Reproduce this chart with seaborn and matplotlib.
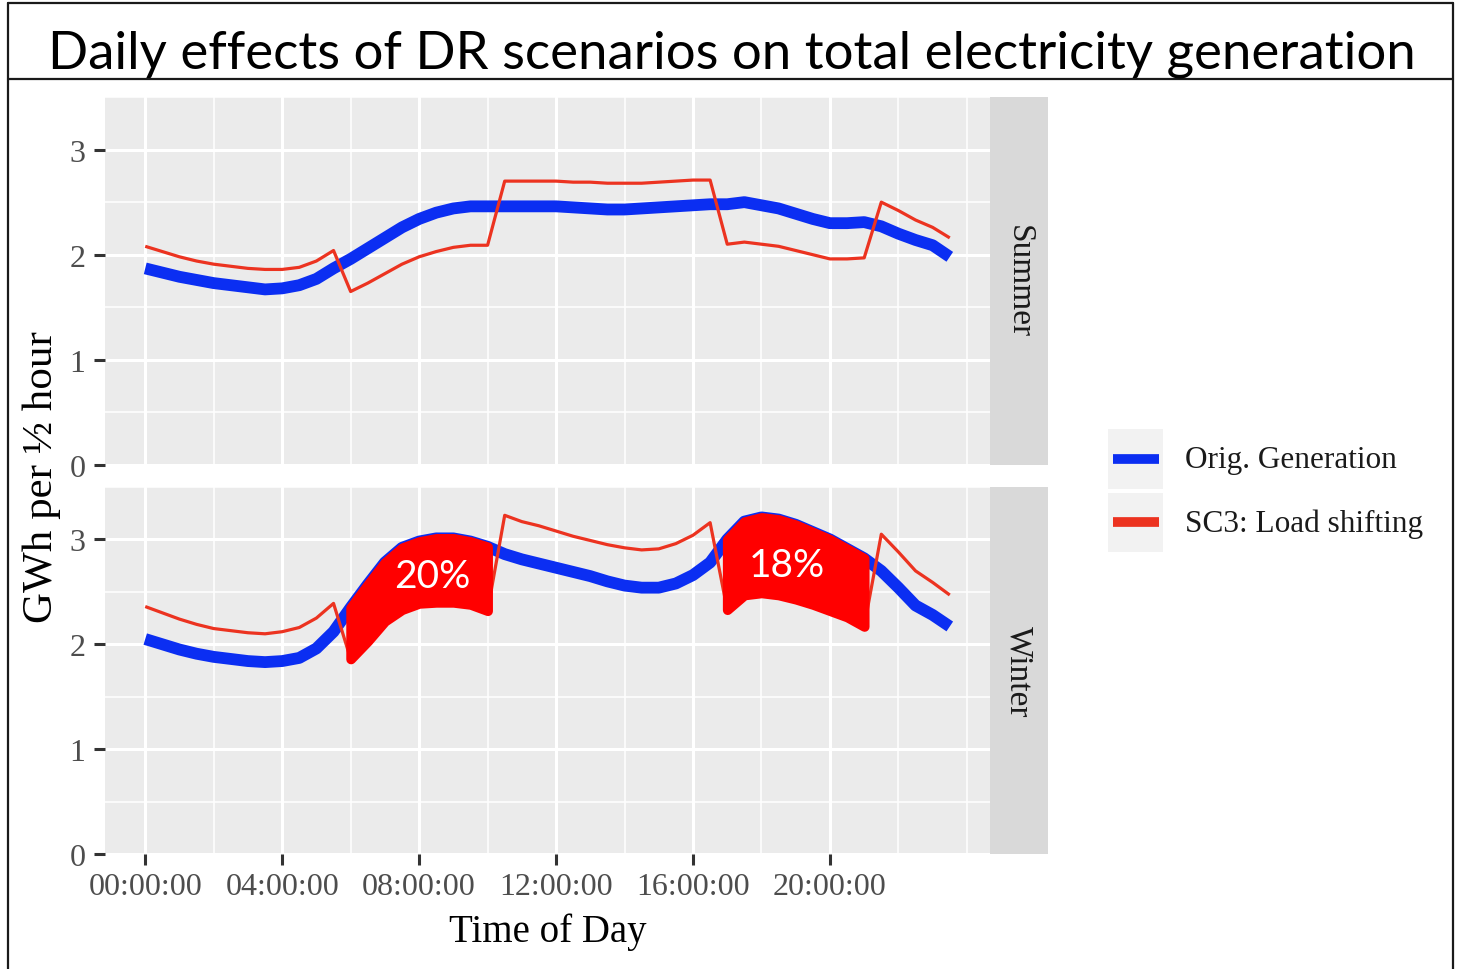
import numpy as np
import pandas as pd
import matplotlib
matplotlib.use("Agg")
import matplotlib.pyplot as plt
from matplotlib.patches import Rectangle
from matplotlib.lines import Line2D
import seaborn as sns

# ---- data: half-hourly generation (GWh per half hour) ----
hours = np.arange(48) * 0.5

summer_orig = [1.87, 1.83, 1.79, 1.76, 1.73, 1.71, 1.69, 1.67, 1.68, 1.71, 1.77, 1.87,
               1.96, 2.06, 2.16, 2.26, 2.34, 2.40, 2.44, 2.46, 2.46, 2.46, 2.46, 2.46,
               2.46, 2.45, 2.44, 2.43, 2.43, 2.44, 2.45, 2.46, 2.47, 2.48, 2.48, 2.50,
               2.47, 2.44, 2.39, 2.34, 2.30, 2.30, 2.31, 2.27, 2.20, 2.14, 2.09, 1.98]
summer_sc3 = [2.08, 2.03, 1.98, 1.94, 1.91, 1.89, 1.87, 1.86, 1.86, 1.88, 1.94, 2.04,
              1.65, 1.73, 1.82, 1.91, 1.98, 2.03, 2.07, 2.09, 2.09, 2.70, 2.70, 2.70,
              2.70, 2.69, 2.69, 2.68, 2.68, 2.68, 2.69, 2.70, 2.71, 2.71, 2.10, 2.12,
              2.10, 2.08, 2.04, 2.00, 1.96, 1.96, 1.97, 2.50, 2.42, 2.33, 2.26, 2.16]
winter_orig = [2.05, 2.00, 1.95, 1.91, 1.88, 1.86, 1.84, 1.83, 1.84, 1.87, 1.96, 2.12,
               2.35, 2.57, 2.78, 2.92, 2.98, 3.01, 3.01, 2.98, 2.93, 2.86, 2.81, 2.77,
               2.73, 2.69, 2.65, 2.60, 2.56, 2.54, 2.54, 2.58, 2.66, 2.78, 3.00, 3.17,
               3.21, 3.19, 3.14, 3.07, 3.00, 2.91, 2.82, 2.70, 2.54, 2.37, 2.28, 2.17]
winter_sc3 = [2.36, 2.30, 2.24, 2.19, 2.15, 2.13, 2.11, 2.10, 2.12, 2.16, 2.25, 2.39,
              1.86, 2.03, 2.22, 2.33, 2.39, 2.40, 2.40, 2.38, 2.32, 3.23, 3.17, 3.13,
              3.08, 3.03, 2.99, 2.95, 2.92, 2.90, 2.91, 2.96, 3.04, 3.16, 2.33, 2.47,
              2.49, 2.47, 2.43, 2.38, 2.32, 2.26, 2.17, 3.05, 2.88, 2.70, 2.59, 2.47]

seasons = ["Summer", "Winter"]
series_names = ["Orig. Generation", "SC3: Load shifting"]
x_tick_hours = [0, 4, 8, 12, 16, 20]
x_tick_labels = ["00:00:00", "04:00:00", "08:00:00", "12:00:00", "16:00:00", "20:00:00"]
y_ticks = [0, 1, 2, 3]

# shifted-load windows in winter and their share of shifted generation
shift_windows = [(6.0, 10.0), (17.0, 21.0)]
shift_labels = ["20%", "18%"]
shift_label_pos = [(8.4, 2.65), (18.75, 2.76)]

values = {("Summer", series_names[0]): summer_orig,
          ("Summer", series_names[1]): summer_sc3,
          ("Winter", series_names[0]): winter_orig,
          ("Winter", series_names[1]): winter_sc3}
rows = []
for (season, name), vals in values.items():
    for h, v in zip(hours, vals):
        rows.append({"season": season, "series": name, "hour": h, "gwh": v})
df = pd.DataFrame(rows)

# ---- styling ----
sns.set_theme(style="darkgrid", rc={"axes.facecolor": "#EBEBEB", "grid.color": "white"})
SERIF = ["Liberation Serif", "DejaVu Serif"]
SANS = ["Lato", "DejaVu Sans"]
plt.rcParams["font.family"] = SERIF

BLUE = "#0B2EF2"
RED_LINE = "#EC3320"
RED_FILL = "#FF0000"
palette = {series_names[0]: BLUE, series_names[1]: RED_LINE}
sizes = {series_names[0]: 8.5, series_names[1]: 2.3}

W, H = 1460, 970
fig = plt.figure(figsize=(W / 100, H / 100), dpi=100)
fig.patch.set_facecolor("white")


def fx(px):
    return px / W


def fy(py):
    return 1 - py / H


panel_rows = [(98, 466), (488, 855)]
px_left, px_right = 105, 990
strip_right = 1048

axes = []
for i, (season, (top, bot)) in enumerate(zip(seasons, panel_rows)):
    ax = fig.add_axes([fx(px_left), fy(bot), (px_right - px_left) / W, (bot - top) / H])
    sub = df[df["season"] == season]
    sns.lineplot(data=sub, x="hour", y="gwh", hue="series", size="series",
                 hue_order=series_names, size_order=series_names,
                 palette=palette, sizes=sizes, sort=False, legend=False, ax=ax,
                 solid_joinstyle="round", solid_capstyle="butt")
    ax.set_xlim(-1.175, 24.675)
    ax.set_ylim(0, 3.5)
    ax.set_xticks(x_tick_hours)
    ax.set_xticks([2, 6, 10, 14, 18, 22, 24], minor=True)
    ax.set_yticks(y_ticks)
    ax.set_yticks([0.5, 1.5, 2.5, 3.5], minor=True)
    ax.grid(which="major", color="white", linewidth=2.2)
    ax.grid(which="minor", color="white", linewidth=1.1)
    ax.set_axisbelow(True)
    for s in ax.spines.values():
        s.set_visible(False)
    ax.set_xlabel("")
    ax.set_ylabel("")
    ax.tick_params(which="minor", length=0)
    ax.tick_params(axis="y", which="major", length=8, width=2.2, color="#333333",
                   labelsize=23, labelcolor="#4D4D4D", pad=6, left=True)
    ax.set_yticklabels([str(t) for t in y_ticks], fontfamily=SERIF)
    if i == 0:
        ax.tick_params(axis="x", which="both", length=0, labelbottom=False)
    else:
        ax.set_xticklabels(x_tick_labels, fontfamily=SERIF)
        ax.tick_params(axis="x", which="major", length=8, width=2.2, color="#333333",
                       labelsize=23, labelcolor="#4D4D4D", pad=5, bottom=True)

    # facet strip
    sax = fig.add_axes([fx(px_right), fy(bot), (strip_right - px_right) / W, (bot - top) / H])
    sax.set_facecolor("#D9D9D9")
    sax.set_xticks([])
    sax.set_yticks([])
    sax.grid(False)
    for s in sax.spines.values():
        s.set_visible(False)
    sax.text(0.5, 0.5, season, rotation=-90, ha="center", va="center",
             fontsize=24, color="#1A1A1A", transform=sax.transAxes, fontfamily=SERIF)
    axes.append(ax)

# shaded load-shifting windows in winter
ax_w = axes[1]
w_orig = np.array(winter_orig)
w_sc3 = np.array(winter_sc3)
for (start, end), label, (lx, ly) in zip(shift_windows, shift_labels, shift_label_pos):
    mask = (hours >= start) & (hours <= end)
    poly = ax_w.fill_between(hours, w_sc3, w_orig, where=mask, facecolor=RED_FILL,
                             edgecolor=RED_FILL, linewidth=7, zorder=5)
    poly.set_joinstyle("round")
    ax_w.text(lx, ly, label, color="white", fontsize=28, ha="center", va="center",
              fontfamily=SANS, zorder=6)

# axis titles
fig.text(fx(42), fy(477), "GWh per \u00bd hour", rotation=90, ha="center", va="center",
         fontsize=31, color="black", fontfamily=SERIF)
fig.text(fx(548), fy(942), "Time of Day", ha="center", va="baseline",
         fontsize=28, color="black", fontfamily=SERIF)

# legend
legend_rows = [(430, 490, 460, BLUE), (494, 553, 523, RED_LINE)]
for name, (ktop, kbot, ky, col) in zip(series_names, legend_rows):
    fig.add_artist(Rectangle((fx(1108), fy(kbot)), 55 / W, (kbot - ktop) / H,
                             transform=fig.transFigure, facecolor="#F2F2F2",
                             edgecolor="none"))
    fig.add_artist(Line2D([fx(1113), fx(1159)], [fy(ky), fy(ky)],
                          transform=fig.transFigure, color=col, linewidth=7,
                          solid_capstyle="butt"))
    fig.text(fx(1185), fy(ky + 1), name, ha="left", va="center", fontsize=22.5,
             color="#1A1A1A", fontfamily=SERIF)

# title box and frame
frame_kw = dict(transform=fig.transFigure, color="#1A1A1A", linewidth=1.6)
fig.add_artist(Line2D([fx(8), fx(1453)], [fy(4), fy(4)], **frame_kw))
fig.add_artist(Line2D([fx(8), fx(1453)], [fy(80), fy(80)], **frame_kw))
fig.add_artist(Line2D([fx(8), fx(8)], [fy(4), fy(972)], **frame_kw))
fig.add_artist(Line2D([fx(1453), fx(1453)], [fy(4), fy(972)], **frame_kw))
fig.text(fx(732), fy(68), "Daily effects of DR scenarios on total electricity generation",
         ha="center", va="baseline", fontsize=38, color="black", fontfamily=SANS)

fig.savefig("out.png", dpi=100)
